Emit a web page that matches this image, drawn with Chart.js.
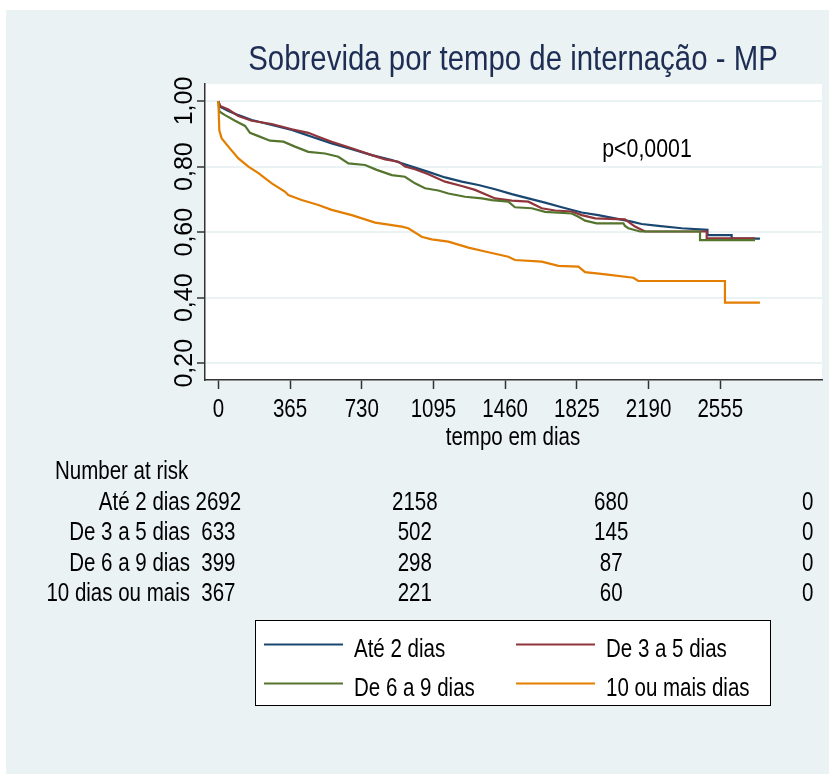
<!DOCTYPE html>
<html>
<head>
<meta charset="utf-8">
<title>Sobrevida por tempo de internação - MP</title>
<script src="https://cdn.jsdelivr.net/npm/chart.js@4.4.1/dist/chart.umd.min.js"></script>
<style>
  html, body { margin: 0; padding: 0; background: #ffffff; }
  #wrap { width: 829px; height: 774px; }
</style>
</head>
<body>
<div id="wrap"><canvas id="kmChart" width="829" height="774"></canvas></div>
<script>
// values
const seriesLabels = ["Até 2 dias", "De 3 a 5 dias", "De 6 a 9 dias", "10 ou mais dias"];
const seriesColors = ["#1a476f", "#90353b", "#55752f", "#e37e00"];

const xTickValues = [0, 365, 730, 1095, 1460, 1825, 2190, 2555];
const yTickValues = [0.2, 0.4, 0.6, 0.8, 1.0];
const yTickLabels = ["0,20", "0,40", "0,60", "0,80", "1,00"];

const timeAte2 = [0, 9, 51, 102, 170, 272, 374, 475, 577, 679, 781, 883, 985, 1069, 1154, 1239, 1324, 1409, 1494, 1578, 1663, 1748, 1850, 1934, 2019, 2104, 2155, 2240, 2359, 2490, 2490, 2613, 2613, 2757];
const survAte2 = [1, 0.983, 0.97, 0.957, 0.942, 0.927, 0.912, 0.891, 0.871, 0.853, 0.835, 0.82, 0.80, 0.784, 0.767, 0.754, 0.744, 0.731, 0.716, 0.703, 0.69, 0.676, 0.66, 0.652, 0.642, 0.632, 0.625, 0.619, 0.612, 0.607, 0.591, 0.591, 0.58, 0.58];

const time3a5 = [0, 9, 51, 102, 170, 272, 374, 458, 509, 577, 679, 781, 849, 917, 950, 1001, 1069, 1154, 1239, 1307, 1409, 1494, 1578, 1646, 1714, 1799, 1850, 1918, 2070, 2121, 2172, 2486, 2486, 2732];
const surv3a5 = [1, 0.985, 0.974, 0.954, 0.94, 0.93, 0.914, 0.903, 0.891, 0.876, 0.856, 0.835, 0.822, 0.815, 0.80, 0.792, 0.777, 0.754, 0.741, 0.729, 0.703, 0.696, 0.693, 0.673, 0.666, 0.663, 0.652, 0.642, 0.639, 0.617, 0.602, 0.602, 0.581, 0.581];

const time6a9 = [0, 5, 34, 85, 136, 161, 204, 263, 331, 390, 458, 543, 611, 662, 747, 806, 883, 950, 1001, 1052, 1120, 1171, 1256, 1341, 1392, 1476, 1510, 1595, 1663, 1799, 1833, 1867, 1926, 2062, 2070, 2087, 2147, 2452, 2452, 2732];
const surv6a9 = [1, 0.968, 0.957, 0.94, 0.924, 0.903, 0.893, 0.879, 0.876, 0.861, 0.845, 0.84, 0.83, 0.81, 0.805, 0.79, 0.774, 0.769, 0.749, 0.734, 0.727, 0.718, 0.708, 0.703, 0.698, 0.693, 0.676, 0.673, 0.662, 0.657, 0.647, 0.635, 0.627, 0.627, 0.619, 0.612, 0.602, 0.602, 0.576, 0.576];

const time10 = [0, 5, 17, 51, 102, 153, 204, 272, 340, 356, 424, 509, 577, 679, 798, 934, 967, 1035, 1086, 1171, 1273, 1358, 1476, 1510, 1646, 1731, 1833, 1867, 1960, 2113, 2138, 2579, 2579, 2757];
const surv10 = [1, 0.91, 0.886, 0.861, 0.825, 0.80, 0.78, 0.749, 0.723, 0.713, 0.698, 0.683, 0.668, 0.652, 0.629, 0.617, 0.612, 0.586, 0.578, 0.571, 0.553, 0.541, 0.525, 0.515, 0.51, 0.497, 0.495, 0.478, 0.472, 0.461, 0.451, 0.451, 0.385, 0.385];

// number at risk table
const riskTimes = [0, 1000, 2000, 3000];
const riskLabels = ["Até 2 dias", "De 3 a 5 dias", "De 6 a 9 dias", "10 dias ou mais"];
const riskAte2 = [2692, 2158, 680, 0];
const risk3a5 = [633, 502, 145, 0];
const risk6a9 = [399, 298, 87, 0];
const risk10 = [367, 221, 60, 0];

// no narrow font installed, so text gets squeezed horizontally
const FONT = '"Liberation Sans", Arial, sans-serif';
const SQUEEZE = 0.82;

function toPoints(times, surv) {
  return times.map((t, i) => ({ x: t, y: surv[i] }));
}

const allTimes = [timeAte2, time3a5, time6a9, time10];
const allSurv = [survAte2, surv3a5, surv6a9, surv10];
const allRisk = [riskAte2, risk3a5, risk6a9, risk10];

function drawText(ctx, text, x, y, size, align, color, sx, rot) {
  ctx.save();
  ctx.translate(x, y);
  if (rot) ctx.rotate(rot);
  ctx.scale(sx || SQUEEZE, 1);
  ctx.font = size + 'px ' + FONT;
  ctx.textAlign = align || 'left';
  ctx.textBaseline = 'alphabetic';
  ctx.fillStyle = color || '#000';
  ctx.fillText(text, 0, 0);
  ctx.restore();
}

// 🔵 background + white plot region
const backdrop = {
  id: 'backdrop',
  beforeDraw(chart) {
    const ctx = chart.ctx;
    const a = chart.chartArea;
    ctx.save();
    ctx.fillStyle = '#ffffff';
    ctx.fillRect(0, 0, chart.width, chart.height);
    ctx.fillStyle = '#eaf2f3';
    ctx.fillRect(6, 10, chart.width - 6, chart.height - 10);
    ctx.fillStyle = '#ffffff';
    ctx.fillRect(a.left, a.top, a.right - a.left, a.bottom - a.top);
    ctx.restore();
  }
};

// 🔵 texts: title, tick labels, p value, axis title, risk table, legend
const annotations = {
  id: 'annotations',
  afterDraw(chart) {
    const ctx = chart.ctx;
    const xs = chart.scales.x;
    const ys = chart.scales.y;

    drawText(ctx, 'Sobrevida por tempo de internação - MP', 513, 70, 35, 'center', '#1e2d54', 0.84);

    // y tick labels, rotated like the original (these are not narrow)
    yTickValues.forEach((v, i) => {
      drawText(ctx, yTickLabels[i], 192, ys.getPixelForValue(v), 25, 'center', '#000', 1, -Math.PI / 2);
    });
    // x tick labels
    xTickValues.forEach(v => {
      drawText(ctx, String(v), xs.getPixelForValue(v), 417, 25, 'center');
    });

    drawText(ctx, 'p<0,0001', 647, 157, 26, 'center');
    drawText(ctx, 'tempo em dias', 513, 445, 25, 'center');

    // number at risk
    drawText(ctx, 'Number at risk', 55, 479, 25, 'left');
    riskLabels.forEach((label, r) => {
      const base = 509.5 + r * 30.5;
      drawText(ctx, label, 190, base, 25, 'right');
      allRisk[r].forEach((n, c) => {
        drawText(ctx, String(n), xs.getPixelForValue(riskTimes[c]), base, 25, 'center');
      });
    });

    // legend box
    ctx.save();
    ctx.fillStyle = '#ffffff';
    ctx.fillRect(255, 620, 516, 86);
    ctx.strokeStyle = '#000';
    ctx.lineWidth = 1;
    ctx.strokeRect(255.5, 620.5, 515, 85);
    const legendPos = [[264, 644.5], [516, 644.5], [264, 683.5], [516, 683.5]];
    seriesLabels.forEach((label, i) => {
      const [lx, ly] = legendPos[i];
      ctx.strokeStyle = seriesColors[i];
      ctx.lineWidth = 2;
      ctx.beginPath();
      ctx.moveTo(lx, ly);
      ctx.lineTo(lx + 79, ly);
      ctx.stroke();
      drawText(ctx, label, lx + 90, ly + 12, 25, 'left');
    });
    ctx.restore();
  }
};

const ctx = document.getElementById('kmChart').getContext('2d');
window.kmChart = new Chart(ctx, {
  type: 'line',
  data: {
    datasets: seriesLabels.map((label, i) => ({
      label: label,
      data: toPoints(allTimes[i], allSurv[i]),
      borderColor: seriesColors[i],
      backgroundColor: seriesColors[i],
      borderWidth: 2.2,
      pointRadius: 0,
      fill: false,
      tension: 0,
      order: 4 - i
    }))
  },
  options: {
    responsive: false,
    animation: false,
    layout: { padding: { left: 0, right: 7, top: 84, bottom: 334 } },
    plugins: {
      legend: { display: false },
      tooltip: { enabled: false }
    },
    scales: {
      x: {
        type: 'linear',
        min: -68,
        max: 3073,
        afterBuildTicks: sc => { sc.ticks = xTickValues.map(v => ({ value: v })); },
        afterFit: sc => { sc.height = 60; },
        ticks: { display: false },
        grid: { drawOnChartArea: false, drawTicks: true, tickLength: 9, tickColor: '#333', tickWidth: 1.5 },
        border: { display: true, color: '#333', width: 1.5 }
      },
      y: {
        type: 'linear',
        min: 0.149,
        max: 1.052,
        afterBuildTicks: sc => { sc.ticks = yTickValues.map(v => ({ value: v })); },
        afterFit: sc => { sc.width = 205; },
        ticks: { display: false },
        grid: { color: '#eaf2f3', lineWidth: 2, drawTicks: true, tickLength: 8, tickColor: '#333', tickWidth: 1.5 },
        border: { display: true, color: '#333', width: 1.5 }
      }
    }
  },
  plugins: [backdrop, annotations]
});
</script>
</body>
</html>
